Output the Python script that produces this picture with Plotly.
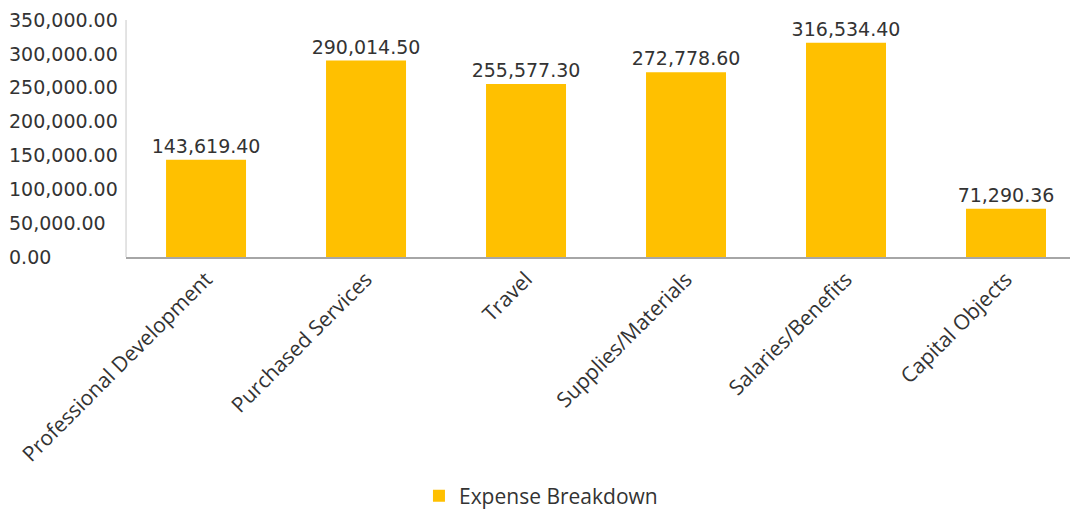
import plotly.graph_objects as go

categories = ["Professional Development", "Purchased Services", "Travel",
              "Supplies/Materials", "Salaries/Benefits", "Capital Objects"]
values = [143619.40, 290014.50, 255577.30, 272778.60, 316534.40, 71290.36]
series_name = "Expense Breakdown"
y_ticks = [0, 50000, 100000, 150000, 200000, 250000, 300000, 350000]

NUMFONT = "DejaVu Sans"
LBLFONT = "Open Sans"
TXT = "#333333"
X0 = 0.1095

fig = go.Figure()
fig.add_trace(go.Bar(
    x=categories, y=values, name=series_name,
    marker=dict(color="#FFC000", line=dict(width=0)),
    width=0.5,
    texttemplate="%{y:,.2f}", textposition="outside",
    textfont=dict(family=NUMFONT, size=19, color=TXT),
    constraintext="none",
    cliponaxis=False,
    showlegend=True,
))

fig.update_layout(
    width=1078, height=510, autosize=False,
    margin=dict(l=0, r=0, t=12, b=261),
    paper_bgcolor="white", plot_bgcolor="white",
    font=dict(family=NUMFONT, size=19, color=TXT),
    xaxis=dict(
        domain=[X0, 1.0], automargin=False,
        showline=True, linecolor="#a6a6a6", linewidth=1.5,
        tickangle=-45, ticks="", showgrid=False,
        tickfont=dict(family=LBLFONT, size=21, color=TXT),
    ),
    yaxis=dict(
        anchor="free", position=0, side="right", automargin=False,
        range=[0, 350000], tickvals=y_ticks, tickformat=",.2f",
        showgrid=False, showline=False, ticks="", zeroline=False,
        tickfont=dict(family=NUMFONT, size=19, color=TXT),
    ),
    shapes=[dict(type="line", xref="paper", yref="paper",
                 x0=X0, x1=X0, y0=0, y1=1,
                 line=dict(color="#c8c8c8", width=1))],
    legend=dict(orientation="h", x=0.4944, xanchor="center", y=-0.922, yanchor="top",
                font=dict(family=LBLFONT, size=21, color=TXT)),
)

fig.write_html("out.html")
